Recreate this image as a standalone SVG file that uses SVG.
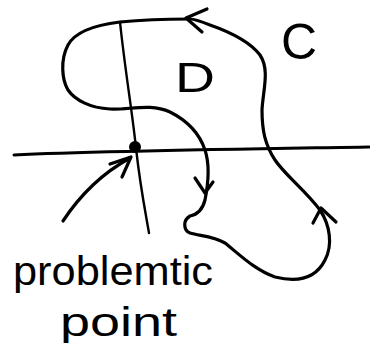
<svg xmlns="http://www.w3.org/2000/svg" width="370" height="343" viewBox="0 0 370 343">
<style>
.ink{fill:none;stroke:#000;stroke-linecap:round;stroke-linejoin:round}
.hand{font-family:"Liberation Sans",Arial,sans-serif;fill:#000}
</style>
<rect width="370" height="343" fill="#fff"/>
<g id="axes">
<path class="ink" stroke-width="3" d="M14,155 C100,151 250,149 369,147"/>
<path class="ink" stroke-width="2.4" d="M120,22 C125,70 132,110 136,148 C140,185 145,210 149,233"/>
<circle cx="135" cy="147" r="6" fill="#000"/>
</g>
<g id="curve-C">
<path class="ink" stroke-width="3.2" d="M190,19 C170,19 140,20 120,22 C95,25 75,32 68,45 C60,60 62,80 68,90 C75,100 90,108 110,109 C130,110 150,103 170,112 C190,122 200,135 205,150 C210,165 208,185 205,200 C202,212 195,215 190,216 C183,220 183,230 190,233 C200,236 213,236 225,243 C240,255 255,270 275,277 C295,282 315,280 325,260 C333,245 330,225 320,210 C305,190 285,175 275,160 C265,145 262,130 262,110 C263,90 270,70 260,55 C250,42 230,32 210,25 C200,21 195,19 190,19 Z"/>
<path class="ink" stroke-width="3.2" d="M207,9 L186,18 L202,32"/>
<path class="ink" stroke-width="3.2" d="M195,178 L205,193 L213,182"/>
<path class="ink" stroke-width="3.2" d="M313,223 L321,208 L336,222"/>
</g>
<g id="pointer">
<path class="ink" stroke-width="3.2" d="M63,221 Q90,180 130,158"/>
<path class="ink" stroke-width="3.2" d="M110,164 L131,157 L122,177"/>
</g>
<g id="labels">
<text class="hand" x="281" y="59" font-size="50">C</text>
<text class="hand" x="175" y="92" font-size="42" textLength="40" lengthAdjust="spacingAndGlyphs">D</text>
<text class="hand" x="13" y="285" font-size="40" textLength="200" lengthAdjust="spacingAndGlyphs">problemtic</text>
<text class="hand" x="60" y="336" font-size="40" textLength="117" lengthAdjust="spacingAndGlyphs">point</text>
</g>
</svg>
